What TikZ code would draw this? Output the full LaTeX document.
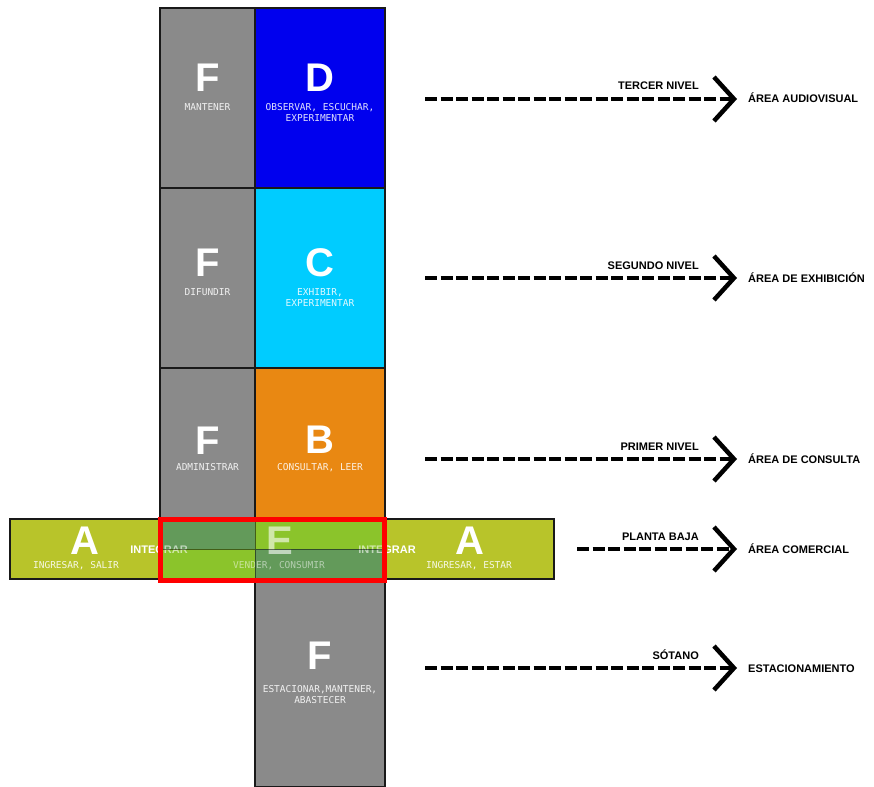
\documentclass[tikz,border=0pt]{standalone}
\usepackage{fontspec}
\setsansfont{Liberation Sans}
\newfontfamily\monofont{DejaVu Sans Mono}
\usetikzlibrary{arrows.meta}

\definecolor{gris}{HTML}{8A8A8A}
\definecolor{azul}{HTML}{0000EE}
\definecolor{cian}{HTML}{00CCFF}
\definecolor{naranja}{HTML}{E98812}
\definecolor{oliva}{HTML}{B8C42A}
\definecolor{verdeclaro}{HTML}{8BC42B}
\definecolor{verdeoscuro}{HTML}{639A5A}

\tikzset{
  celda/.style={draw=black!90, line width=1.1pt},
  letra/.style={inner sep=0pt, text=white, font=\sffamily\bfseries\fontsize{40}{40}\selectfont},
  accion/.style={anchor=north, inner sep=0pt, align=center, text=white, text opacity=0.88,
    font=\monofont\fontsize{9.5}{11}\selectfont},
  nivel/.style={anchor=base east, inner sep=0pt, font=\sffamily\bfseries\fontsize{11}{13}\selectfont},
  areatxt/.style={anchor=west, inner sep=0pt, text height=8pt, text depth=0pt,
    font=\sffamily\bfseries\fontsize{11}{13}\selectfont},
  flecha/.style={line width=3.8pt, dash pattern=on 12pt off 3.5pt,
    -{Straight Barb[length=20pt, width=44pt, line width=4.5pt]}, shorten >=11pt},
}

\begin{document}
\begin{tikzpicture}[x=1pt, y=-1pt]
  \useasboundingbox (0,0) rectangle (874,786);

  % Tercer nivel
  \draw[celda, fill=gris] (160,8) rectangle (255,188);
  \draw[celda, fill=azul] (255,8) rectangle (385,188);
  \node[letra] (f3) at (207.5,78) {F};
  \node[accion] (tf3) at (207.5,103.5) {MANTENER};
  \node[letra] (d) at (320,78) {D};
  \node[accion] (td) at (320,103.5) {OBSERVAR, ESCUCHAR,\\EXPERIMENTAR};

  % Segundo nivel
  \draw[celda, fill=gris] (160,188) rectangle (255,368);
  \draw[celda, fill=cian] (255,188) rectangle (385,368);
  \node[letra] (f2) at (207.5,263) {F};
  \node[accion] (tf2) at (207.5,288.5) {DIFUNDIR};
  \node[letra] (c) at (320,263) {C};
  \node[accion] (tc) at (320,288.5) {EXHIBIR,\\EXPERIMENTAR};

  % Primer nivel
  \draw[celda, fill=gris] (160,368) rectangle (255,549);
  \draw[celda, fill=naranja] (255,368) rectangle (385,519);
  \node[letra] (f1) at (207.5,441) {F};
  \node[accion] (tf1) at (207.5,463.5) {ADMINISTRAR};
  \node[letra] (b) at (320,440) {B};
  \node[accion] (tb) at (320,463.5) {CONSULTAR, LEER};

  % Sotano
  \draw[celda, fill=gris] (255,549) rectangle (385,787);
  \node[letra] (f0) at (320,656) {F};
  \node[accion] (tf0) at (320,685.5) {ESTACIONAR,MANTENER,\\ABASTECER};

  % Planta baja
  \draw[celda, fill=oliva] (10,519) rectangle (554,579);
  \fill[verdeclaro] (160,519) rectangle (385,579);
  \fill[verdeoscuro] (160,519) rectangle (255,549) (255,549) rectangle (385,579);
  \node[letra] (a1) at (85,541) {A};
  \node[accion] (ta1) at (76,561.5) {INGRESAR, SALIR};
  \node[letra] (a2) at (470,541) {A};
  \node[accion] (ta2) at (469,561.5) {INGRESAR, ESTAR};
  \node[letra] (e) at (280,541) {E};
  \node[accion] (te) at (279,561.5) {VENDER, CONSUMIR};
  \node[nivel, anchor=center, text=white] (i1) at (159,550) {INTEGRAR};
  \node[nivel, anchor=center, text=white] (i2) at (387,550) {INTEGRAR};
  % velo sobre E
  \fill[verdeclaro, fill opacity=0.4] (255,519) rectangle (385,549) (160,549) rectangle (255,579);
  \fill[verdeoscuro, fill opacity=0.4] (160,519) rectangle (255,549) (255,549) rectangle (385,579);
  \draw[black, opacity=0.5] (255,519) -- (255,579) (160,549) -- (385,549);
  \draw[red, line width=5pt] (160.5,519.5) rectangle (384.5,580);

  % Niveles
  \coordinate (s3) at (425,99);
  \node[nivel] (n3) at (699,90) {TERCER NIVEL};
  \node[areatxt] (z3) at (748,99) {ÁREA AUDIOVISUAL};
  \draw[flecha] (s3) -- (z3);

  \coordinate (s2) at (425,278);
  \node[nivel] (n2) at (699,269) {SEGUNDO NIVEL};
  \node[areatxt] (z2) at (748,278) {ÁREA DE EXHIBICIÓN};
  \draw[flecha] (s2) -- (z2);

  \coordinate (s1) at (425,459);
  \node[nivel] (n1) at (699,450) {PRIMER NIVEL};
  \node[areatxt] (z1) at (748,459) {ÁREA DE CONSULTA};
  \draw[flecha] (s1) -- (z1);

  \coordinate (sb) at (577,549);
  \node[nivel] (nb) at (699,540) {PLANTA BAJA};
  \node[areatxt] (zb) at (748,549) {ÁREA COMERCIAL};
  \draw[flecha] (sb) -- (zb);

  \coordinate (s0) at (425,668);
  \node[nivel] (n0) at (699,659) {SÓTANO};
  \node[areatxt] (z0) at (748,668) {ESTACIONAMIENTO};
  \draw[flecha] (s0) -- (z0);
\end{tikzpicture}
\end{document}
